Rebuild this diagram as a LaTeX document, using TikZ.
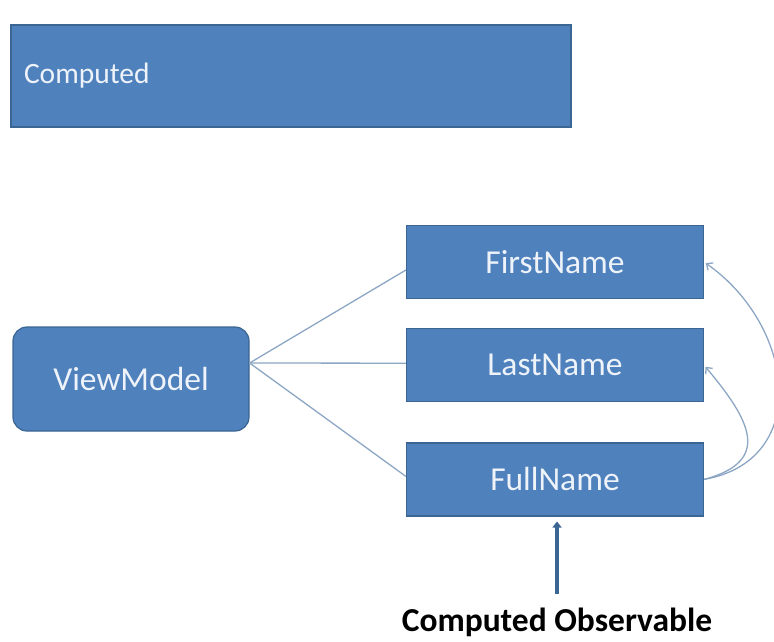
\documentclass[tikz,border=0pt]{standalone}
\usepackage{fontspec}
\setmainfont{Carlito}
\usetikzlibrary{positioning, arrows.meta}

\definecolor{boxblue}{HTML}{4F81BD}
\definecolor{boxedge}{HTML}{3B6593}
\definecolor{linkgray}{HTML}{8CA6C4}
\definecolor{labeltext}{HTML}{EEF3FA}

\begin{document}
\begin{tikzpicture}[x=1pt, y=-1pt,
    namebox/.style={draw=boxedge, line width=1.2pt, fill=boxblue, text=labeltext,
        font=\fontsize{33.5}{38}\selectfont, minimum width=297pt, minimum height=73pt, inner sep=0pt},
    link/.style={draw=linkgray, line width=1.3pt},
    dep/.style={link, -{Straight Barb[length=5pt,width=9pt]}}
]
\useasboundingbox (0,0) rectangle (774,641);

\node[namebox, minimum width=0pt, minimum height=102pt, inner xsep=13pt,
    text width=534pt, align=left, font=\fontsize{29.5}{36}\selectfont] (computed) at (291,76) {Computed};

\node[namebox, rounded corners=14pt, minimum width=236pt, minimum height=104pt] (vm) at (131,379) {ViewModel};

\node[namebox] (first) at (555,262) {FirstName};
\node[namebox, below=29pt of first] (last) {LastName};
\node[namebox, below=40pt of last] (full) {FullName};

\node[font=\bfseries\fontsize{33.5}{38}\selectfont, text=black] (obs) at (557,622) {Computed Observable};

% viewmodel to its members
\draw[link] ([yshift=16pt]vm.east) -- ([yshift=-8pt]first.west);
\draw[link] ([yshift=16pt]vm.east) -- ([yshift=2pt]last.west);
\draw[link] ([yshift=16pt]vm.east) -- ([yshift=3pt]full.west);

% dependencies of the computed value
\draw[dep, shorten >=2pt] (full.east) to[out=10, in=-35, looseness=1.3] (first.east);
\draw[dep, shorten >=2pt] (full.east) to[out=15, in=-50, looseness=1.6] (last.east);

\draw[line width=3.2pt, draw=boxedge, -{Triangle[length=6pt,width=9pt]}, shorten <=10pt, shorten >=5pt]
    (obs.north) -- (obs.north |- full.south);
\end{tikzpicture}
\end{document}
